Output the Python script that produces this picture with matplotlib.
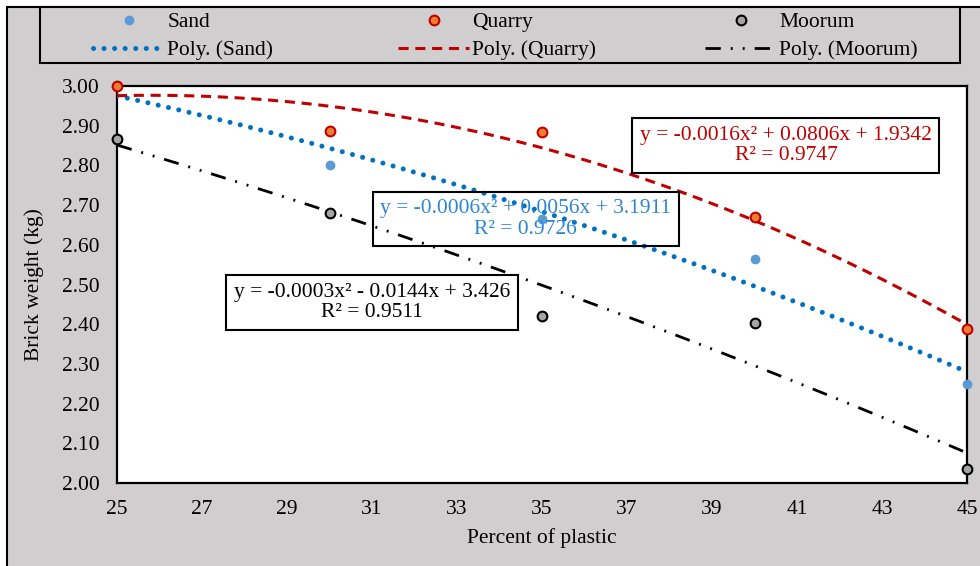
#!/usr/bin/env python3
"""
Brick weight vs percent of plastic, with quadratic trendlines
"""

import numpy as np
import matplotlib
matplotlib.use('Agg')
import matplotlib.pyplot as plt
from matplotlib.patches import Rectangle

plt.rcParams['font.family'] = ['Liberation Serif', 'DejaVu Serif']

# Data
percent = [25, 30, 35, 40, 45]
sand = [3.00, 2.80, 2.665, 2.564, 2.249]
quarry = [3.00, 2.887, 2.884, 2.67, 2.388]
moorum = [2.866, 2.68, 2.42, 2.403, 2.035]

x_ticks = list(range(25, 46, 2))
y_ticks = [2.0, 2.1, 2.2, 2.3, 2.4, 2.5, 2.6, 2.7, 2.8, 2.9, 3.0]

eq_sand = 'y = -0.0006x² + 0.0056x + 3.1911\nR² = 0.9726'
eq_quarry = 'y = -0.0016x² + 0.0806x + 1.9342\nR² = 0.9747'
eq_moorum = 'y = -0.0003x² - 0.0144x + 3.426\nR² = 0.9511'

PANEL = '#d0cecf'
FS = 15.5

W, H = 980, 566
fig = plt.figure(figsize=(W / 100, H / 100), dpi=100, facecolor='white')

# grey chart area with black border on left/top (rest is cropped off)
fig.patches.append(Rectangle((7 / W, -0.05), 1.1, 1.05 - 7 / H, transform=fig.transFigure,
                             facecolor=PANEL, edgecolor='black', linewidth=1.5, zorder=-2))

ax = fig.add_axes([117 / W, 1 - 483 / H, 850 / W, 397 / H])
ax.set_facecolor('white')

xs = np.linspace(25, 45, 300)
fit_s = np.polyval(np.polyfit(percent, sand, 2), xs)
fit_q = np.polyval(np.polyfit(percent, quarry, 2), xs)
fit_m = np.polyval(np.polyfit(percent, moorum, 2), xs)

# trendlines
l_s, = ax.plot(xs, fit_s, color='#0070c0', lw=3.6, linestyle=(0, (0.01, 2.1)),
               dash_capstyle='round', label='Poly. (Sand)', zorder=3)
l_q, = ax.plot(xs, fit_q, color='#c00000', lw=2.2, linestyle=(0, (3.3, 2.2)),
               label='Poly. (Quarry)', zorder=3)
l_m, = ax.plot(xs, fit_m, color='black', lw=2.0, linestyle=(0, (5.5, 3.6, 0.7, 3.6, 0.7, 3.6)),
               label='Poly. (Moorum)', zorder=3)

# points
p_s, = ax.plot(percent, sand, 'o', color='#5b9bd5', ms=6, mec='#5b9bd5',
               label='Sand', clip_on=False, zorder=4)
p_q, = ax.plot(percent, quarry, 'o', mfc='#ed7d31', mec='#c00000', ms=7, mew=1.5,
               label='Quarry', clip_on=False, zorder=5)
p_m, = ax.plot(percent, moorum, 'o', mfc='#a5a5a5', mec='black', ms=7, mew=1.5,
               label='Moorum', clip_on=False, zorder=5)

ax.set_xlim(25, 45)
ax.set_ylim(2.0, 3.0)
ax.set_xticks(x_ticks)
ax.set_yticks(y_ticks)
ax.set_yticklabels([f'{v:.2f}' for v in y_ticks])
ax.tick_params(axis='both', length=0, labelsize=FS)
ax.tick_params(axis='x', pad=12)
ax.tick_params(axis='y', pad=12.5)
for sp in ax.spines.values():
    sp.set_linewidth(1.6)
    sp.set_color('black')

ax.set_xlabel('Percent of plastic', fontsize=FS)
ax.set_ylabel('Brick weight (kg)', fontsize=FS)
ax.xaxis.set_label_coords(0.5, -0.113)
ax.yaxis.set_label_coords(-0.086, 0.5)

# equation boxes
box = dict(boxstyle='square,pad=0.35', facecolor='white', edgecolor='black', linewidth=1.5)
ax.text(0.787, 0.850, eq_quarry, transform=ax.transAxes, ha='center', va='center',
        fontsize=FS, color='#c00000', linespacing=1.1, bbox=box, zorder=6)
ax.text(0.481, 0.665, eq_sand, transform=ax.transAxes, ha='center', va='center',
        fontsize=FS, color='#2e86d0', linespacing=1.1, zorder=6,
        bbox=dict(boxstyle='square,pad=0.35', facecolor='none', edgecolor='black', linewidth=1.5))
ax.text(0.300, 0.4547, eq_moorum, transform=ax.transAxes, ha='center', va='center',
        fontsize=FS, color='black', linespacing=1.1, bbox=box, zorder=6)

# legend frame plus one legend per column
fig.patches.append(Rectangle((40 / W, 1 - 63 / H), 920 / W, 56 / H, transform=fig.transFigure,
                             facecolor=PANEL, edgecolor='black', linewidth=1.5, zorder=1))
for start, (pt, ln) in zip([93, 398, 705], [(p_s, l_s), (p_q, l_q), (p_m, l_m)]):
    fig.legend([pt, ln], [pt.get_label(), ln.get_label()], loc='upper left',
               bbox_to_anchor=(start / W, 1 - 12 / H), bbox_transform=fig.transFigure,
               frameon=False, fontsize=FS, handlelength=3.3, handletextpad=0.15,
               borderpad=0, borderaxespad=0, labelspacing=0.38, numpoints=1)

fig.savefig('out.png', dpi=100, facecolor='white')
